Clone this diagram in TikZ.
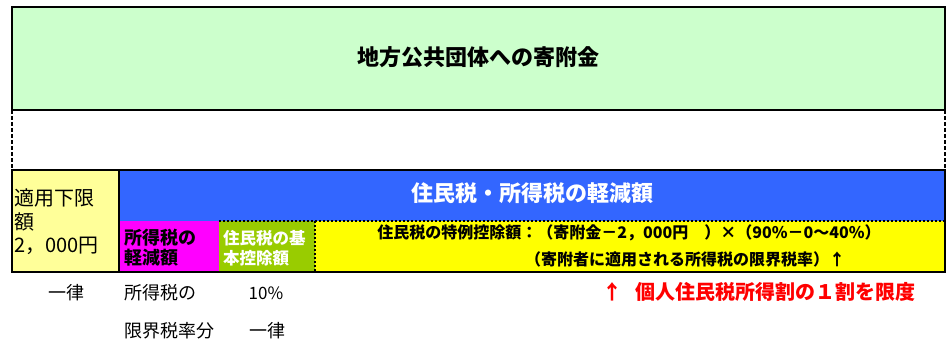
\documentclass[tikz,border=0pt]{standalone}
\usepackage{fontspec}
\setmainfont{Noto Sans CJK JP}
\definecolor{lgreen}{HTML}{CCFFCC}
\definecolor{rblue}{HTML}{3366FF}
\definecolor{pyellow}{HTML}{FFFF99}
\definecolor{rmag}{HTML}{FF00FF}
\definecolor{ygreen}{HTML}{99CC00}
\definecolor{ryellow}{HTML}{FFFF00}
\definecolor{rred}{HTML}{FF0000}
\newcommand{\fs}[2]{\fontsize{#1pt}{#2pt}\selectfont}
\begin{document}
\begin{tikzpicture}[x=1pt,y=-1pt,
  cell/.style={anchor=north west,inner sep=0pt,outer sep=0pt,draw=none},
  border/.style={line width=2pt,black},
  dashborder/.style={line width=1.8pt,black,dash pattern=on 4pt off 2pt},
  dotborder/.style={line width=1.8pt,black,dash pattern=on 2pt off 2pt},
  txt/.style={inner sep=0pt,outer sep=0pt},
  boldtxt/.style={txt,font=\bfseries}]
\useasboundingbox (0,0) rectangle (947,342);
% cells
\node[cell,fill=lgreen,minimum width=933pt,minimum height=103pt] (donation) at (12,7) {};
\node[cell,fill=pyellow,minimum width=107pt,minimum height=102pt] (lower) at (12,170) {};
\node[cell,fill=rblue,minimum width=826pt,minimum height=51pt] (reduction) at (119,170) {};
\node[cell,fill=rmag,minimum width=100pt,minimum height=51pt] (itax) at (119,221) {};
\node[cell,fill=ygreen,minimum width=96pt,minimum height=51pt] (basic) at (219,221) {};
\node[cell,fill=ryellow,minimum width=630pt,minimum height=51pt] (special) at (315,221) {};
% borders
\draw[border] (donation.north west) rectangle (donation.south east);
\draw[dashborder] (donation.south west) -- (lower.north west);
\draw[dashborder] (donation.south east) -- (reduction.north east);
\draw[dotborder] (basic.north west) -- (special.north east);
\draw[dotborder] (basic.north east) -- (basic.south east);
\draw[border] (lower.north west) rectangle (special.south east);
\draw[border] (lower.north east) -- (lower.south east);
% texts
\node[boldtxt,font=\bfseries\fs{22}{26}] (t1) at (478,57) {地方公共団体への寄附金};
\node[boldtxt,text=white,font=\bfseries\fs{22}{26}] (t2) at (532,193) {住民税・所得税の軽減額};
\node[txt,anchor=west,align=left,font=\fs{20}{23.5}] (t3) at (14,222) {適用下限\\額\\2，000円};
\node[boldtxt,anchor=west,align=left,font=\bfseries\fs{18}{20}] (t4) at (124,248) {所得税の\\軽減額};
\node[boldtxt,anchor=west,align=left,text=white,font=\bfseries\fs{16.5}{20}] (t5) at (223,248) {住民税の基\\本控除額};
\node[boldtxt,font=\bfseries\fs{16}{20}] (t6) at (629,233) {住民税の特例控除額：（寄附金－2，000円　）×（90\%－0～40\%）};
\node[boldtxt,anchor=east,font=\bfseries\fs{16}{20}] (t7) at (845,259) {（寄附者に適用される所得税の限界税率）↑};
\node[txt,font=\fs{18}{20}] (t8) at (66,293) {一律};
\node[txt,anchor=west,font=\fs{18}{20}] (t9) at (124,293) {所得税の};
\node[txt,anchor=west,font=\fs{18}{20}] (t10) at (124,331) {限界税率分};
\node[txt,font=\fs{17}{20}] (t11) at (266,293) {10\%};
\node[txt,font=\fs{18}{20}] (t12) at (267,331) {一律};
\node[boldtxt,text=rred,font=\bfseries\fs{20}{22}] (t13) at (612,292) {↑};
\node[boldtxt,anchor=west,text=rred,font=\bfseries\fs{20}{22}] (t14) at (635,292) {個人住民税所得割の１割を限度};
\end{tikzpicture}
\end{document}
